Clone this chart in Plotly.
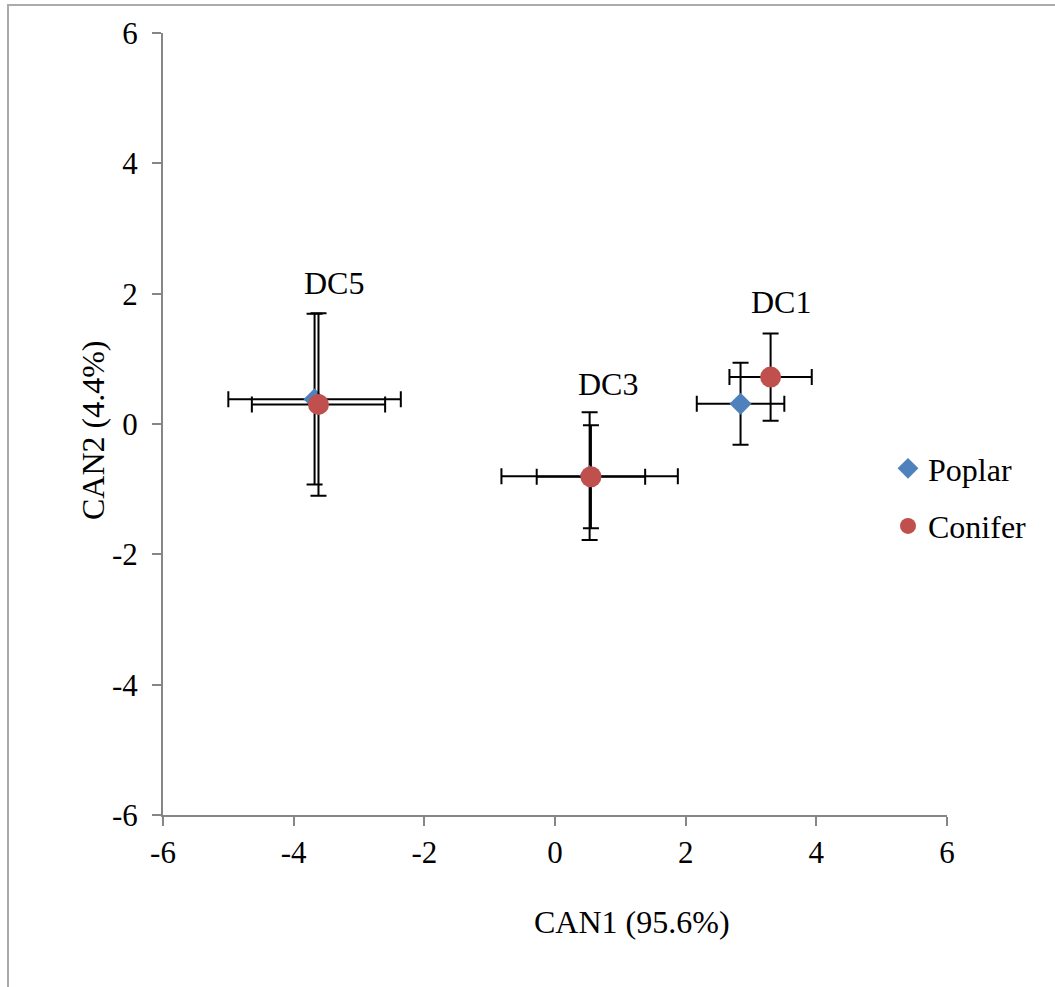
import plotly.graph_objects as go

# Canonical discriminant scores (group means) with error bars
groups = ["DC5", "DC3", "DC1"]

poplar_can1 = [-3.68, 0.53, 2.84]
poplar_can2 = [0.38, -0.80, 0.31]
poplar_err1 = [1.32, 1.35, 0.67]
poplar_err2 = [1.31, 0.98, 0.63]

conifer_can1 = [-3.62, 0.55, 3.30]
conifer_can2 = [0.30, -0.81, 0.72]
conifer_err1 = [1.02, 0.83, 0.63]
conifer_err2 = [1.40, 0.79, 0.67]

axis_ticks = [-6, -4, -2, 0, 2, 4, 6]
axis_tick_text = ["-6", "-4", "-2", "0", "2", "4", "6"]

FONT = "Liberation Serif"
FS = 32
AXIS_GREY = "#868686"

fig = go.Figure()

fig.add_trace(go.Scatter(
    x=poplar_can1, y=poplar_can2, mode="markers", name="Poplar",
    legendgroup="p",
    marker=dict(symbol="diamond", size=17, color="#4F81BD"),
    error_x=dict(type="data", array=poplar_err1, color="black", thickness=2, width=8),
    error_y=dict(type="data", array=poplar_err2, color="black", thickness=2, width=8),
))

fig.add_trace(go.Scatter(
    x=conifer_can1, y=conifer_can2, mode="markers", name="Conifer",
    legendgroup="c",
    marker=dict(symbol="circle", size=21, color="#C0504D"),
    error_x=dict(type="data", array=conifer_err1, color="black", thickness=2, width=8),
    error_y=dict(type="data", array=conifer_err2, color="black", thickness=2, width=8),
))

# group labels placed above each pair of points
label_offsets = [(16, 121), (17, 93), (10, 75)]
for g, cx, cy, (dx, dy) in zip(groups, conifer_can1, conifer_can2, label_offsets):
    fig.add_annotation(x=cx, y=cy, text=g, showarrow=False,
                       xanchor="center", yanchor="middle",
                       xshift=dx, yshift=dy,
                       font=dict(family=FONT, size=FS, color="black"))

# axis titles
fig.add_annotation(xref="paper", yref="paper", x=(632 - 163) / 784, y=-(922 - 815) / 782,
                   xanchor="center", yanchor="middle",
                   text="CAN1 (95.6%)", showarrow=False,
                   font=dict(family=FONT, size=FS, color="black"))
fig.add_annotation(xref="paper", yref="paper", x=(93 - 163) / 784, y=(815 - 430) / 782,
                   xanchor="center", yanchor="middle",
                   text="CAN2 (4.4%)", showarrow=False, textangle=-90,
                   font=dict(family=FONT, size=FS, color="black"))

# chart-area frame
fig.add_shape(type="rect", xref="paper", yref="paper",
              x0=(8 - 163) / 784, x1=(1062 - 163) / 784,
              y0=(815 - 994) / 782, y1=(815 - 5) / 782,
              line=dict(color="#ABABAB", width=2), layer="below")

axis_common = dict(
    range=[-6, 6], tickvals=axis_ticks, ticktext=axis_tick_text,
    showgrid=False, zeroline=False,
    showline=True, linecolor=AXIS_GREY, linewidth=2,
    ticks="outside", ticklen=9, tickwidth=2, tickcolor=AXIS_GREY,
    tickfont=dict(family=FONT, size=FS - 1, color="black"),
)

fig.update_xaxes(**axis_common)
fig.update_yaxes(**axis_common, ticklabelstandoff=8)

fig.update_layout(
    width=1055, height=987,
    margin=dict(l=163, r=108, t=33, b=172),
    paper_bgcolor="white", plot_bgcolor="white",
    font=dict(family=FONT, size=FS, color="black"),
    legend=dict(x=(888 - 163) / 784, y=(815 - 441) / 782,
                xanchor="left", yanchor="top",
                tracegroupgap=13, itemwidth=30,
                font=dict(family=FONT, size=FS, color="black"),
                bgcolor="rgba(0,0,0,0)"),
)

fig.write_html("out.html")
